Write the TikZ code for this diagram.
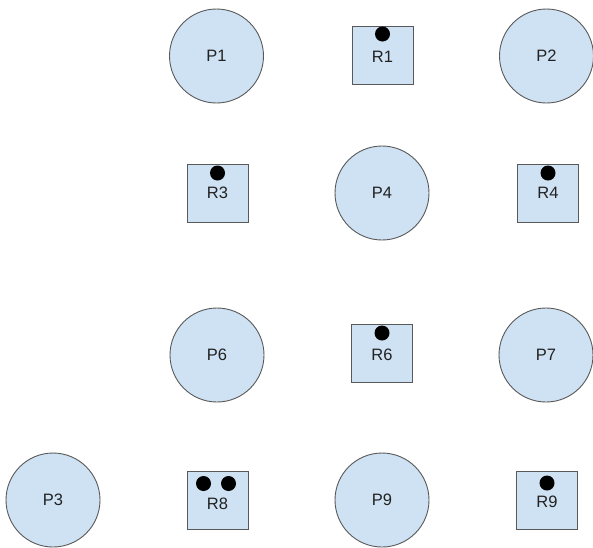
\documentclass[tikz,border=0pt]{standalone}
\usepackage{fontspec}
\setmainfont{Liberation Sans}
\definecolor{fillblue}{HTML}{CFE2F3}
\definecolor{edgegray}{HTML}{595959}
\definecolor{txt}{HTML}{222222}
\begin{document}
\begin{tikzpicture}[x=1pt,y=-1pt,
  proc/.style={circle,draw=edgegray,line width=0.9pt,fill=fillblue,minimum size=94pt,inner sep=0pt,font=\fontsize{16.5}{18}\selectfont,text=txt},
  res/.style={rectangle,draw=edgegray,line width=0.9pt,fill=fillblue,minimum width=61pt,minimum height=58pt,inner sep=0pt},
  reslabel/.style={font=\fontsize{16.5}{18}\selectfont,text=txt,inner sep=0pt},
  tok/.style={circle,fill=black,minimum size=15pt,inner sep=0pt}]
\useasboundingbox (0,0) rectangle (593,547);
% processes
\node[proc] (P1) at (216.5,56) {P1};
\node[proc] (P2) at (546.5,56) {P2};
\node[proc] (P4) at (382,193) {P4};
\node[proc] (P6) at (217,355) {P6};
\node[proc] (P7) at (546,355) {P7};
\node[proc] (P3) at (53,500) {P3};
\node[proc] (P9) at (382,500) {P9};
% resources
\node[res] (R1) at (382.5,55) {};
\node[reslabel] (R1l) at ([yshift=-1.5pt]R1.center) {R1};
\node[tok] (R1t) at ([yshift=21pt]R1.center) {};
\node[res] (R3) at (217.5,193) {};
\node[reslabel] (R3l) at ([yshift=0pt]R3.center) {R3};
\node[tok] (R3t) at ([yshift=20pt]R3.center) {};
\node[res] (R4) at (548,193) {};
\node[reslabel] (R4l) at ([yshift=0pt]R4.center) {R4};
\node[tok] (R4t) at ([yshift=20pt]R4.center) {};
\node[res] (R6) at (382,353) {};
\node[reslabel] (R6l) at ([yshift=-1.5pt]R6.center) {R6};
\node[tok] (R6t) at ([yshift=20pt]R6.center) {};
\node[res] (R8) at (217.5,500.5) {};
\node[reslabel] (R8l) at ([yshift=-3pt]R8.center) {R8};
\node[tok] (R8t1) at ([xshift=-14pt,yshift=17pt]R8.center) {};
\node[tok] (R8t2) at ([xshift=11pt,yshift=17pt]R8.center) {};
\node[res] (R9) at (547,500) {};
\node[reslabel] (R9l) at ([yshift=-2pt]R9.center) {R9};
\node[tok] (R9t) at ([yshift=17pt]R9.center) {};
\end{tikzpicture}
\end{document}
